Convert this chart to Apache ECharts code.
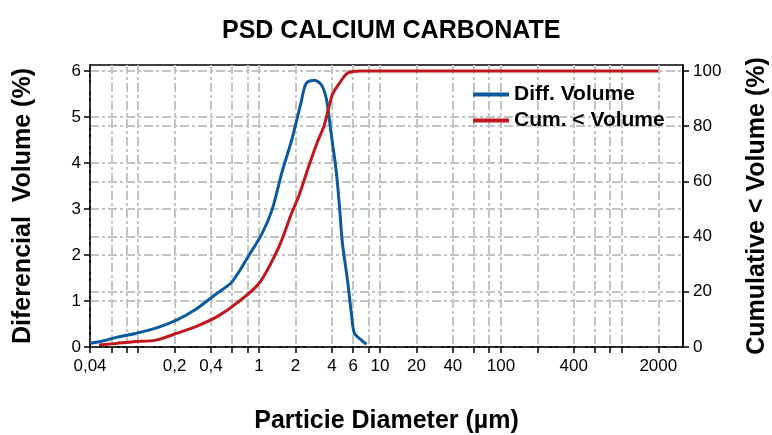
<!DOCTYPE html>
<html>
<head>
<meta charset="utf-8">
<script src="https://cdn.jsdelivr.net/npm/echarts@6/dist/echarts.min.js"></script>
<style>
  html, body { margin: 0; padding: 0; background: #fff; }
  #chart { width: 772px; height: 435px; }
</style>
</head>
<body>
<div id="chart"></div>
<script>
// particle size distribution, diameters in µm
const diffDiameter = [0.04, 0.051, 0.066, 0.097, 0.14, 0.21, 0.30, 0.45, 0.58, 0.68, 0.82, 1.06, 1.28, 1.55, 1.88, 2.23, 2.45, 2.86, 3.27, 3.59, 3.80, 4.03, 4.35, 4.61, 4.89, 5.38, 5.80, 6.14, 7.02, 7.73];
const diffVolume = [0.08, 0.13, 0.21, 0.30, 0.41, 0.59, 0.82, 1.17, 1.38, 1.63, 1.98, 2.47, 2.98, 3.81, 4.54, 5.33, 5.73, 5.80, 5.70, 5.41, 4.97, 4.46, 3.81, 3.09, 2.25, 1.46, 0.73, 0.30, 0.15, 0.06];

const cumDiameter = [0.0475, 0.066, 0.091, 0.14, 0.21, 0.30, 0.45, 0.65, 1.0, 1.46, 1.84, 2.14, 2.60, 3.02, 3.46, 4.03, 4.61, 5.38, 6.9, 2000];
const cumVolume = [0.7, 1.3, 1.9, 2.5, 5.0, 7.4, 11.0, 15.8, 23.1, 36.3, 48, 55, 66, 74, 80.4, 91.3, 95.5, 99.2, 100, 100];

const xTicks = [0.04, 0.06, 0.08, 0.1, 0.2, 0.4, 0.6, 0.8, 1, 2, 4, 6, 8, 10, 20, 40, 60, 80, 100, 200, 400, 600, 800, 1000, 2000];
const xLabels = [0.04, 0.2, 0.4, 1, 2, 4, 6, 10, 20, 40, 100, 400, 2000];
const leftTicks = [0, 1, 2, 3, 4, 5, 6];
const rightTicks = [0, 20, 40, 60, 80, 100];

const xMin = 0.04, xMax = 3200;

const lg = Math.log10;
const gridStyle = { color: "#c4c4c4", width: 2, type: [9, 3, 3, 3] };
const labelFont = { fontFamily: "Liberation Sans", fontSize: 17, color: "#000" };
const nameFont = { fontFamily: "Liberation Sans", fontWeight: "bold", fontSize: 25, color: "#000" };
const axisLine = { show: true, onZero: false, lineStyle: { color: "#000", width: 1.5 } };

function fmtDiameter(v) {
  const d = Math.pow(10, v);
  const s = d < 1 ? String(Number(d.toPrecision(2))) : String(Math.round(d));
  return s.replace(".", ",");
}

let chart = echarts.init(document.getElementById("chart"));
let option = {
  animation: false,
  backgroundColor: "#fff",
  title: {
    text: "PSD CALCIUM CARBONATE",
    left: 222,
    top: 19,
    padding: 0,
    textStyle: { fontFamily: "Liberation Sans", fontWeight: "bold", fontSize: 25, color: "#000" },
  },
  legend: {
    orient: "vertical",
    left: 468,
    top: 79,
    itemGap: 5,
    itemWidth: 36,
    itemHeight: 4,
    icon: "rect",
    textStyle: { fontFamily: "Liberation Sans", fontWeight: "bold", fontSize: 21, color: "#000" },
    data: ["Diff. Volume", "Cum. < Volume"],
  },
  grid: {
    left: 90,
    right: 89,
    top: 65,
    bottom: 88,
    outerBoundsMode: "none",
    containLabel: false,
    show: true,
    borderColor: "#000",
    borderWidth: 1.5,
  },
  xAxis: {
    type: "value",
    min: lg(xMin),
    max: lg(xMax),
    axisLine: axisLine,
    axisTick: { show: true, length: 6, lineStyle: { color: "#000", width: 1.5 }, customValues: xTicks.map(lg) },
    axisLabel: { ...labelFont, margin: 11, customValues: xLabels.map(lg), formatter: fmtDiameter },
    splitLine: { show: true, lineStyle: gridStyle },
    name: "Particie Diameter (µm)",
    nameLocation: "middle",
    nameGap: 62,
    nameTextStyle: nameFont,
  },
  yAxis: [
    {
      type: "value",
      position: "left",
      min: 0,
      max: 6.13,
      axisLine: axisLine,
      axisTick: { show: true, length: 6, lineStyle: { color: "#000", width: 1.5 }, customValues: leftTicks },
      axisLabel: { ...labelFont, margin: 9, customValues: leftTicks },
      splitLine: { show: true, lineStyle: gridStyle },
      name: "Diferencial  Volume (%)",
      nameLocation: "middle",
      nameGap: 54,
      nameTextStyle: nameFont,
    },
    {
      type: "value",
      position: "right",
      min: 0,
      max: 102.17,
      axisLine: axisLine,
      axisTick: { show: true, length: 6, lineStyle: { color: "#000", width: 1.5 }, customValues: rightTicks },
      axisLabel: { ...labelFont, margin: 10, customValues: rightTicks },
      splitLine: { show: true, lineStyle: gridStyle },
      name: "Cumulative < Volume (%)",
      nameLocation: "middle",
      nameGap: 62,
      nameTextStyle: nameFont,
    },
  ],
  series: [
    {
      name: "Diff. Volume",
      type: "line",
      yAxisIndex: 0,
      symbol: "none",
      smooth: 0.3,
      color: "#0b5a9e",
      lineStyle: { color: "#0b5a9e", width: 3 },
      data: diffDiameter.map((d, i) => [lg(d), diffVolume[i]]),
    },
    {
      name: "Cum. < Volume",
      type: "line",
      yAxisIndex: 1,
      symbol: "none",
      smooth: 0.3,
      color: "#c1181d",
      lineStyle: { color: "#c1181d", width: 3 },
      data: cumDiameter.map((d, i) => [lg(d), cumVolume[i]]),
    },
  ],
};

option && chart.setOption(option);
</script>
</body>
</html>
